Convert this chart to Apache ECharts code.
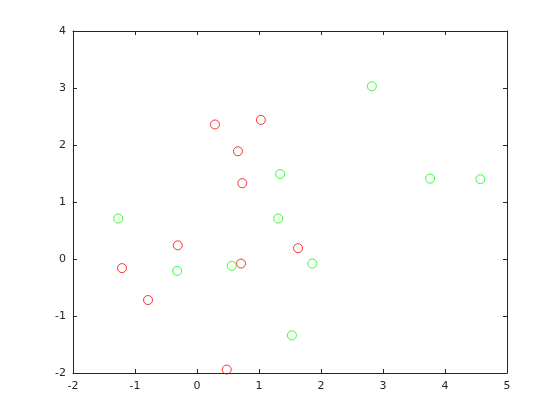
<!DOCTYPE html>
<html>
<head>
<meta charset="utf-8">
<script src="https://cdn.jsdelivr.net/npm/echarts@6/dist/echarts.min.js"></script>
<style>html,body{margin:0;padding:0;background:#fff}#c{width:560px;height:420px}</style>
</head>
<body>
<div id="c"></div>
<script>
const redX = [0.29, 1.03, 0.66, 0.73, -0.31, -1.21, 0.71, 1.63, -0.79, 0.48];
const redY = [2.36, 2.44, 1.89, 1.33, 0.24, -0.16, -0.08, 0.19, -0.72, -1.94];
const greenX = [2.82, 3.76, 4.57, 1.34, 1.31, -1.27, -0.32, 0.56, 1.86, 1.53];
const greenY = [3.03, 1.41, 1.40, 1.49, 0.71, 0.71, -0.21, -0.12, -0.08, -1.34];
const xTicks = [-2, -1, 0, 1, 2, 3, 4, 5];
const yTicks = [-2, -1, 0, 1, 2, 3, 4];

const zip = (a, b) => a.map((v, i) => [v, b[i]]);
const chart = echarts.init(document.getElementById('c'), null, {renderer: 'canvas'});
const font = 'DejaVu Sans';
const lineStyle = {color: '#262626', width: 1};
function axis(pos, ticks, labels, margin) {
  return {
    type: 'value', position: pos, min: ticks[0], max: ticks[ticks.length - 1], interval: 1,
    axisLine: {show: true, onZero: false, lineStyle},
    axisTick: {show: true, inside: true, length: 4, lineStyle},
    axisLabel: {show: labels, color: '#262626', fontSize: 11, fontFamily: font, margin: margin},
    splitLine: {show: false}
  };
}
chart.setOption({
  animation: false,
  backgroundColor: '#fff',
  grid: {left: 73, right: 53, top: 31, bottom: 47},
  xAxis: [axis('bottom', xTicks, true, 8), axis('top', xTicks, false, 8)],
  yAxis: [axis('left', yTicks, true, 7), axis('right', yTicks, false, 7)],
  series: [
    {type: 'scatter', data: zip(redX, redY), symbol: 'circle', symbolSize: 9,
     itemStyle: {color: 'transparent', borderColor: '#ff0000', borderWidth: 1}},
    {type: 'scatter', data: zip(greenX, greenY), symbol: 'circle', symbolSize: 9,
     itemStyle: {color: 'transparent', borderColor: '#00ff00', borderWidth: 1}}
  ]
});
</script>
</body>
</html>
